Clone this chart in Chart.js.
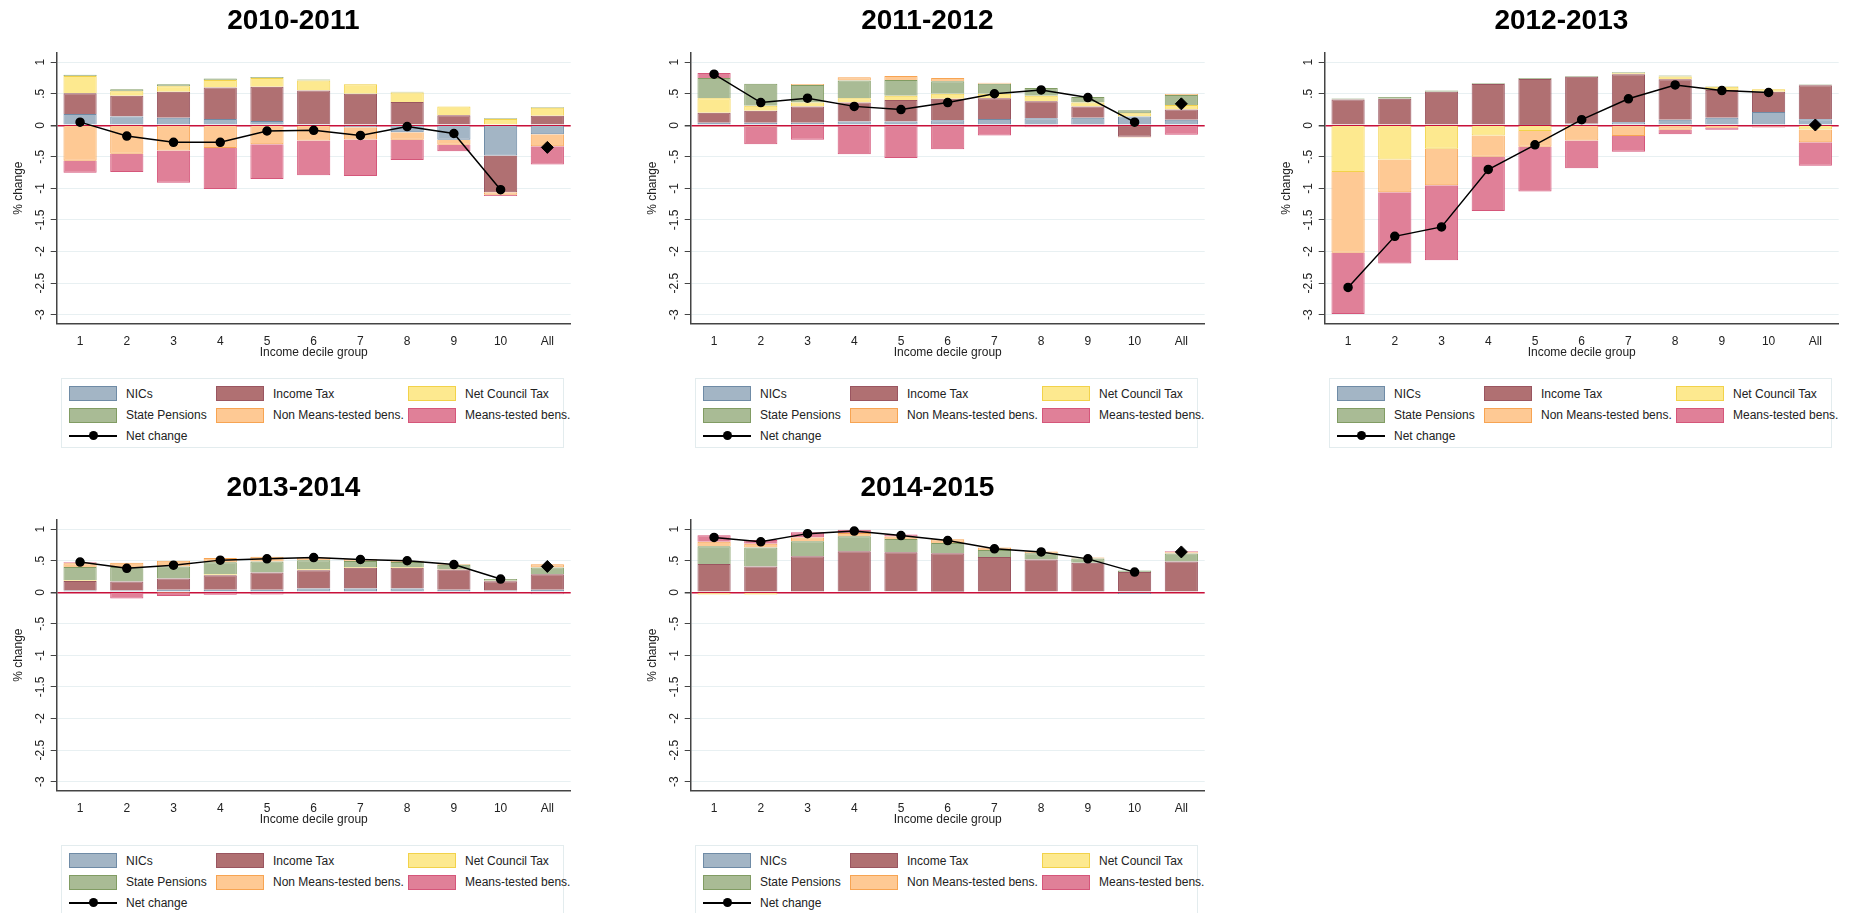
<!DOCTYPE html>
<html>
<head>
<meta charset="utf-8">
<script src="https://cdn.jsdelivr.net/npm/chart.js@4.4.0/dist/chart.umd.min.js"></script>
<style>
  body { margin: 0; background: #fff; font-family: "Liberation Sans", Arial, sans-serif; }
  #page { position: relative; width: 1850px; height: 913px; overflow: hidden; }
  .cell { position: absolute; width: 600px; height: 456px; }
  .cv { position: absolute; left: 0; top: 0; width: 585px; height: 360px; }
  .legend { position: absolute; left: 61px; top: 378px; width: 503px; height: 70px;
            border: 1px solid #e3ecee; box-sizing: border-box; }
  .item { position: absolute; font-size: 12px; color: #222; white-space: nowrap; line-height: 14px; }
  .sw { position: absolute; width: 48px; height: 15px; box-sizing: border-box; border: 1px solid; }
</style>
</head>
<body>
<div id="page"></div>
<script>
const categories = ["1", "2", "3", "4", "5", "6", "7", "8", "9", "10", "All"];
const periods = ["2010-2011", "2011-2012", "2012-2013", "2013-2014", "2014-2015"];
const yTicks = [1, 0.5, 0, -0.5, -1, -1.5, -2, -2.5, -3];
const seriesNames = ["NICs", "Income Tax", "Net Council Tax", "State Pensions",
                     "Non Means-tested bens.", "Means-tested bens."];

// one row per period, one value per decile + All
const nics = [
  [0.18, 0.14, 0.12, 0.10, 0.07, 0.02, -0.03, -0.11, -0.23, -0.48, -0.14],
  [0.04, 0.04, 0.04, 0.06, 0.06, 0.08, 0.10, 0.11, 0.12, 0.14, 0.09],
  [0, 0, 0, 0, 0.005, 0.025, 0.05, 0.09, 0.12, 0.21, 0.095],
  [0.03, 0.03, 0.04, 0.04, 0.04, 0.06, 0.06, 0.06, 0.04, 0.03, 0.04],
  [0, 0, 0, 0.02, 0.015, 0.01, 0, 0, 0, -0.025, 0]
];
const incomeTax = [
  [0.33, 0.33, 0.41, 0.50, 0.54, 0.53, 0.50, 0.37, 0.16, -0.58, 0.15],
  [0.16, 0.19, 0.26, 0.30, 0.34, 0.34, 0.33, 0.27, 0.18, -0.18, 0.16],
  [0.41, 0.42, 0.53, 0.655, 0.73, 0.745, 0.76, 0.64, 0.44, 0.32, 0.54],
  [0.15, 0.14, 0.18, 0.23, 0.275, 0.29, 0.33, 0.33, 0.32, 0.145, 0.245],
  [0.45, 0.41, 0.57, 0.63, 0.62, 0.61, 0.56, 0.52, 0.47, 0.32, 0.49]
];
const councilTax = [
  [0.27, 0.07, 0.09, 0.12, 0.14, 0.16, 0.15, 0.15, 0.14, 0.10, 0.13],
  [0.23, 0.08, 0.06, 0.07, 0.07, 0.08, 0.07, 0.09, 0.06, 0.05, 0.07],
  [-0.74, -0.54, -0.37, -0.16, -0.09, 0, 0.015, 0.045, 0.05, 0.04, -0.065],
  [0.01, -0.01, -0.005, 0.015, 0, 0.015, 0.01, 0.01, 0.01, 0.01, 0],
  [-0.035, -0.035, -0.015, -0.015, -0.015, -0.015, -0.01, -0.01, -0.01, 0, -0.015]
];
const statePensions = [
  [0.02, 0.03, 0.03, 0.02, 0.015, 0.015, 0.005, 0.01, 0, 0.01, 0.01],
  [0.32, 0.35, 0.28, 0.28, 0.25, 0.20, 0.16, 0.12, 0.09, 0.05, 0.16],
  [0.015, 0.03, 0.02, 0.01, 0.015, 0.01, 0.015, 0.015, 0.01, 0, 0.01],
  [0.21, 0.23, 0.19, 0.19, 0.175, 0.145, 0.095, 0.08, 0.065, 0.025, 0.11],
  [0.28, 0.30, 0.24, 0.24, 0.21, 0.16, 0.11, 0.10, 0.065, 0.025, 0.125]
];
const nonMeansTested = [
  [-0.56, -0.45, -0.40, -0.36, -0.30, -0.24, -0.195, -0.12, -0.08, -0.04, -0.19],
  [-0.02, -0.02, 0.015, 0.05, 0.06, 0.05, 0.015, 0, 0, -0.015, 0.015],
  [-1.28, -0.52, -0.58, -0.34, -0.25, -0.24, -0.17, -0.07, -0.04, -0.02, -0.205],
  [0.06, 0.07, 0.09, 0.07, 0.075, 0.04, 0.03, 0.02, 0.015, 0, 0.05],
  [0.07, 0.06, 0.06, 0.05, 0.04, 0.06, 0.04, 0.025, 0.015, 0, 0.02]
];
const meansTested = [
  [-0.19, -0.29, -0.51, -0.65, -0.55, -0.55, -0.58, -0.32, -0.10, -0.02, -0.29],
  [0.08, -0.28, -0.23, -0.46, -0.52, -0.38, -0.16, -0.03, -0.015, 0, -0.15],
  [-0.97, -1.13, -1.19, -0.86, -0.71, -0.44, -0.25, -0.07, -0.03, -0.015, -0.37],
  [0.015, -0.09, -0.055, -0.04, -0.035, 0, 0, 0, 0, 0, -0.03],
  [0.105, 0.06, 0.08, 0.05, 0.03, 0, 0, 0, 0, 0, 0.015]
];
const netChange = [
  [0.05, -0.17, -0.27, -0.27, -0.09, -0.08, -0.16, -0.02, -0.13, -1.02, -0.35],
  [0.81, 0.36, 0.43, 0.30, 0.25, 0.36, 0.50, 0.56, 0.44, 0.05, 0.34],
  [-2.57, -1.76, -1.61, -0.70, -0.31, 0.09, 0.42, 0.64, 0.55, 0.52, 0.005],
  [0.48, 0.38, 0.43, 0.51, 0.53, 0.55, 0.52, 0.50, 0.44, 0.21, 0.41],
  [0.87, 0.80, 0.93, 0.97, 0.90, 0.82, 0.69, 0.64, 0.53, 0.32, 0.64]
];

const series = [nics, incomeTax, councilTax, statePensions, nonMeansTested, meansTested];
const fills = ["#a3b5c5", "#b07072", "#fde98f", "#a9bb95", "#fec994", "#e08098"];
const edges = ["#6f8ba6", "#9a5560", "#f2d24a", "#819c63", "#f7a452", "#d5567a"];
const cellPos = [[0, 0], [634, 0], [1268, 0], [0, 467], [634, 467]];

Chart.defaults.font.family = "'Liberation Sans', Arial, sans-serif";
Chart.defaults.color = "#222";

function tickText(v) {
  if (v === 0) return "0";
  return String(v).replace(/^(-?)0\./, "$1.");
}

function buildLegend(box, chart) {
  const sw = [7, 154, 346];
  const tx = [64, 211, 403];
  const rows = [7, 28.5, 49];
  chart.data.datasets.slice(0, 7).forEach((ds, k) => {
    const col = k < 6 ? k % 3 : 0;
    const row = k < 6 ? Math.floor(k / 3) : 2;
    if (ds.type === "bar") {
      const s = document.createElement("div");
      s.className = "sw";
      s.style.left = sw[col] + "px";
      s.style.top = rows[row] + "px";
      s.style.background = ds.backgroundColor;
      s.style.borderColor = ds.borderColor;
      box.appendChild(s);
    } else {
      const ln = document.createElement("div");
      ln.style.cssText = "position:absolute;height:2px;background:#000;width:48px;left:" +
        sw[col] + "px;top:" + (rows[row] + 6.5) + "px";
      const dot = document.createElement("div");
      dot.style.cssText = "position:absolute;width:9px;height:9px;border-radius:50%;background:#000;left:" +
        (sw[col] + 19.5) + "px;top:" + (rows[row] + 3) + "px";
      box.appendChild(ln);
      box.appendChild(dot);
    }
    const t = document.createElement("div");
    t.className = "item";
    t.style.left = tx[col] + "px";
    t.style.top = (rows[row] + 0.5) + "px";
    t.textContent = ds.label;
    box.appendChild(t);
  });
}

const page = document.getElementById("page");

periods.forEach((period, i) => {
  const cell = document.createElement("div");
  cell.className = "cell";
  cell.style.left = cellPos[i][0] + "px";
  cell.style.top = cellPos[i][1] + "px";
  const wrap = document.createElement("div");
  wrap.className = "cv";
  const canvas = document.createElement("canvas");
  wrap.appendChild(canvas);
  cell.appendChild(wrap);
  const legendBox = document.createElement("div");
  legendBox.className = "legend";
  cell.appendChild(legendBox);
  page.appendChild(cell);

  const barSets = series.map((s, k) => ({
    type: "bar",
    label: seriesNames[k],
    data: s[i],
    backgroundColor: fills[k],
    borderColor: edges[k],
    borderWidth: 1,
    stack: "parts",
    order: 2,
    barPercentage: 0.71,
    categoryPercentage: 1
  }));

  const chart = new Chart(canvas, {
    data: {
      labels: categories,
      datasets: barSets.concat([
        {
          type: "line",
          label: "Net change",
          data: netChange[i].map((v, j) => (j < 10 ? v : null)),
          borderColor: "#000",
          borderWidth: 1.5,
          pointRadius: 4,
          pointBackgroundColor: "#000",
          pointBorderColor: "#000",
          stack: "net",
          order: 0
        },
        {
          type: "line",
          label: "Net change (All)",
          data: netChange[i].map((v, j) => (j === 10 ? v : null)),
          showLine: false,
          pointStyle: "rectRot",
          pointRadius: 6,
          pointBackgroundColor: "#000",
          pointBorderColor: "#000",
          stack: "netAll",
          order: 0
        }
      ])
    },
    options: {
      responsive: true,
      maintainAspectRatio: false,
      animation: false,
      layout: { padding: { left: 16, right: 14.3, top: 0, bottom: 0 } },
      plugins: {
        legend: { display: false },
        tooltip: { enabled: false },
        title: {
          display: true,
          text: period,
          color: "#000",
          font: { size: 28, weight: "bold" },
          padding: { top: 4.6, bottom: 14.8 }
        }
      },
      scales: {
        x: {
          type: "category",
          stacked: true,
          offset: true,
          grid: { display: false },
          border: { display: true, color: "#444", width: 1.5 },
          ticks: { font: { size: 12 }, padding: 3.5, maxRotation: 0, autoSkip: false },
          title: {
            display: true,
            text: "Income decile group",
            font: { size: 12 },
            padding: { top: 0, bottom: 0 }
          },
          afterFit: (s) => { s.height = 36.7; }
        },
        y: {
          type: "linear",
          stacked: true,
          min: -3.138,
          max: 1.146,
          afterBuildTicks: (s) => { s.ticks = yTicks.map((v) => ({ value: v })); },
          grid: {
            color: (c) => (c.tick && c.tick.value === 0 ? "#c8103a" : "#e8f0f2"),
            lineWidth: (c) => (c.tick && c.tick.value === 0 ? 1.5 : 1),
            tickColor: "#444",
            tickLength: 6
          },
          border: { color: "#444", width: 1.5 },
          ticks: {
            minRotation: 90,
            maxRotation: 90,
            crossAlign: "center",
            padding: 0,
            font: { size: 12 },
            callback: (v) => tickText(v)
          },
          title: {
            display: true,
            text: "% change",
            font: { size: 12 },
            padding: { top: -4.6, bottom: 0 }
          },
          afterFit: (s) => { s.width = 40.7; }
        }
      }
    }
  });

  buildLegend(legendBox, chart);
});
</script>
</body>
</html>
